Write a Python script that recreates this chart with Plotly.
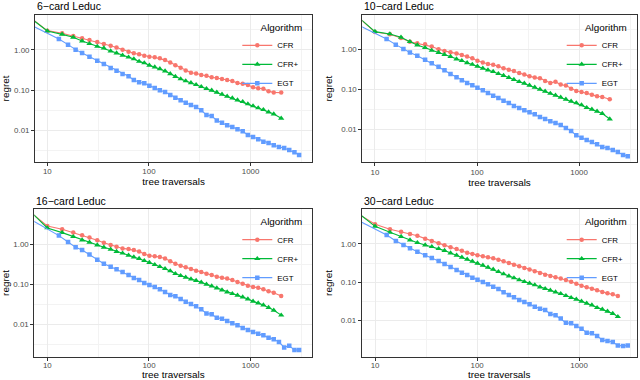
import plotly.graph_objects as go

# ---------------- data ----------------
ALGORITHMS = ["CFR", "CFR+", "EGT"]
PANEL_TITLES = ["6−card Leduc", "10−card Leduc", "16−card Leduc", "30−card Leduc"]

X_TICKS = [10, 100, 1000]
X_TICKTEXT = ["10", "100", "1000"]
Y_TICKS = [1, 0.1, 0.01]
Y_TICKTEXT = ["1.00", "0.10", "0.01"]
X_MINOR = [3.162, 31.62, 316.2, 3162]
Y_MINOR = [3.162, 0.3162, 0.03162, 0.003162]

# tree traversals
X_CFR = [6, 10, 14, 18, 22, 26, 31, 36, 42, 48, 55, 63, 71, 80, 90, 101, 114, 128, 144, 162,
         182, 205, 230, 259, 291, 327, 368, 414, 465, 523, 588, 661, 743, 836, 940, 1057,
         1188, 1336, 1502, 1689, 2000]
X_CFR_30 = [6, 10, 14, 18, 22, 26, 31, 36, 42, 48, 55, 63, 71, 80, 90, 101, 114, 128, 144, 162,
            182, 205, 230, 259, 291, 327, 368, 414, 465, 523, 588, 661, 743, 836, 940, 1057,
            1188, 1336, 1502, 1689, 1900, 2140, 2400]
X_EGT = [6, 13, 16, 19, 22, 26, 31, 36, 42, 48, 55, 63, 71, 80, 90, 101, 114, 128, 144, 162,
         182, 205, 230, 259, 291, 327, 368, 414, 465, 523, 588, 661, 743, 836, 940, 1057,
         1188, 1336, 1502, 1689, 1900, 2140, 2400, 2700, 3000]

# regret, 6-card
CFR_6 = [8.1, 3.03, 2.60, 2.23, 1.95, 1.77, 1.58, 1.41, 1.28, 1.16, 1.02, 0.91, 0.83, 0.78, 0.72,
         0.68, 0.66, 0.62, 0.56, 0.49, 0.42, 0.36, 0.31, 0.27, 0.26, 0.24, 0.23, 0.21, 0.20, 0.19,
         0.18, 0.17, 0.15, 0.145, 0.134, 0.118, 0.111, 0.109, 0.094, 0.088, 0.087]
CFRP_6 = [8.1, 2.97, 2.45, 2.07, 1.67, 1.44, 1.23, 1.12, 0.94, 0.84, 0.74, 0.66, 0.60, 0.52, 0.475,
          0.415, 0.375, 0.34, 0.30, 0.255, 0.218, 0.19, 0.17, 0.152, 0.137, 0.122, 0.109, 0.099,
          0.0883, 0.0787, 0.0702, 0.0638, 0.0569, 0.0518, 0.0453, 0.0404, 0.0360, 0.0327, 0.0286,
          0.0255, 0.0200]
EGT_6 = [5.0, 1.88, 1.36, 1.02, 0.84, 0.68, 0.54, 0.45, 0.356, 0.306, 0.253, 0.221, 0.179, 0.157,
         0.148, 0.129, 0.113, 0.099, 0.090, 0.076, 0.065, 0.0558, 0.0489, 0.0428, 0.0381, 0.0315,
         0.0241, 0.0228, 0.0177, 0.0155, 0.0133, 0.0121, 0.0106, 0.00944, 0.00766, 0.00683,
         0.00597, 0.00522, 0.00484, 0.00423, 0.00385, 0.00363, 0.00324, 0.00283, 0.00243]

# regret, 10-card
CFR_10 = [8.7, 2.71, 2.37, 1.92, 1.55, 1.41, 1.33, 1.17, 1.00, 0.91, 0.84, 0.79, 0.72, 0.66, 0.60,
          0.52, 0.47, 0.43, 0.41, 0.376, 0.335, 0.310, 0.287, 0.256, 0.233, 0.211, 0.196, 0.188,
          0.162, 0.144, 0.155, 0.131, 0.124, 0.104, 0.0908, 0.0858, 0.0810, 0.0736, 0.0668,
          0.0643, 0.0562]
CFRP_10 = [8.6, 2.77, 2.42, 2.0, 1.55, 1.28, 1.10, 0.94, 0.83, 0.74, 0.66, 0.57, 0.52, 0.46, 0.42,
           0.376, 0.335, 0.304, 0.277, 0.246, 0.220, 0.196, 0.175, 0.155, 0.141, 0.126, 0.112,
           0.100, 0.089, 0.079, 0.0708, 0.0631, 0.0562, 0.0501, 0.0455, 0.0406, 0.0348, 0.0316,
           0.0282, 0.0247, 0.0181]
EGT_10 = [4.8, 1.81, 1.31, 1.02, 0.83, 0.69, 0.55, 0.447, 0.369, 0.299, 0.242, 0.200, 0.168,
          0.144, 0.126, 0.110, 0.0944, 0.081, 0.0695, 0.0607, 0.0521, 0.0455, 0.0383, 0.0341,
          0.0299, 0.0266, 0.0237, 0.0203, 0.0181, 0.0158, 0.0144, 0.0128, 0.0108, 0.00908,
          0.00708, 0.00619, 0.00541, 0.00482, 0.00422, 0.00362, 0.00341, 0.00304, 0.00271,
          0.00228, 0.00211]

# regret, 16-card
CFR_16 = [8.3, 2.87, 2.37, 1.96, 1.68, 1.47, 1.26, 1.10, 0.96, 0.87, 0.79, 0.76, 0.72, 0.66, 0.57,
          0.52, 0.50, 0.48, 0.44, 0.376, 0.329, 0.293, 0.266, 0.242, 0.220, 0.203, 0.185, 0.171,
          0.155, 0.147, 0.139, 0.128, 0.114, 0.104, 0.0927, 0.0858, 0.0825, 0.075, 0.0668,
          0.0619, 0.0511]
CFRP_16 = [9.1, 2.56, 1.96, 1.55, 1.28, 1.12, 0.96, 0.84, 0.75, 0.66, 0.60, 0.53, 0.48, 0.44, 0.39,
           0.35, 0.31, 0.277, 0.246, 0.216, 0.185, 0.165, 0.150, 0.136, 0.124, 0.112, 0.100,
           0.0908, 0.081, 0.0722, 0.0643, 0.0585, 0.0531, 0.0482, 0.0430, 0.0376, 0.0341,
           0.0304, 0.0262, 0.0225, 0.0170]
EGT_16 = [5.1, 1.65, 1.14, 0.84, 0.72, 0.56, 0.41, 0.329, 0.277, 0.237, 0.203, 0.171, 0.144,
          0.128, 0.108, 0.0962, 0.0858, 0.075, 0.0643, 0.0541, 0.0501, 0.0430, 0.0369, 0.0322,
          0.0282, 0.0237, 0.0188, 0.0178, 0.0147, 0.0139, 0.0121, 0.0106, 0.00944, 0.00810,
          0.00722, 0.00643, 0.00585, 0.00531, 0.00465, 0.00422, 0.00362, 0.00266, 0.00291,
          0.00228, 0.00228]

# regret, 30-card
CFR_30 = [7.6, 3.3, 2.42, 2.10, 1.83, 1.65, 1.38, 1.20, 1.04, 0.92, 0.82, 0.74, 0.66, 0.59, 0.55,
          0.505, 0.475, 0.447, 0.421, 0.389, 0.351, 0.318, 0.287, 0.260, 0.235, 0.213, 0.192,
          0.174, 0.157, 0.145, 0.134, 0.124, 0.114, 0.103, 0.0914, 0.0809, 0.0732, 0.0676,
          0.0611, 0.0552, 0.0509, 0.0480, 0.0434]
CFRP_30 = [8.5, 2.9, 2.02, 1.56, 1.27, 1.08, 0.94, 0.85, 0.755, 0.67, 0.58, 0.505, 0.447, 0.396,
           0.351, 0.311, 0.276, 0.245, 0.217, 0.188, 0.164, 0.145, 0.129, 0.114, 0.103, 0.0931,
           0.0843, 0.0747, 0.0676, 0.0611, 0.0552, 0.0500, 0.0443, 0.0393, 0.0355, 0.0315,
           0.0279, 0.0252, 0.0215, 0.0194, 0.0172, 0.0150, 0.0125]
EGT_30 = [4.9, 1.72, 1.20, 0.94, 0.77, 0.63, 0.505, 0.430, 0.359, 0.299, 0.250, 0.208, 0.177,
          0.154, 0.131, 0.116, 0.101, 0.0877, 0.0762, 0.0662, 0.0542, 0.0461, 0.0401, 0.0341,
          0.0302, 0.0262, 0.0228, 0.0202, 0.0187, 0.0147, 0.0135, 0.0111, 0.00869, 0.00834,
          0.00711, 0.00605, 0.00475, 0.00456, 0.00389, 0.00305, 0.00288, 0.00271, 0.00221,
          0.00213, 0.00221]

# ---------------- styling / layout ----------------
W, H = 640, 380
FONT = "Liberation Sans, Arial, sans-serif"
COLORS = {"CFR": "#F8766D", "CFR+": "#00BA38", "EGT": "#619CFF"}
SYMBOLS = {"CFR": "circle", "CFR+": "triangle-up", "EGT": "square"}
SIZES = {"CFR": 4.5, "CFR+": 5.5, "EGT": 4.5}

panels = [
    dict(series=[(X_CFR, CFR_6), (X_CFR, CFRP_6), (X_EGT, EGT_6)],
         px=(35.0, 312.3), py=(15.0, 162.0), xr=(0.879, 3.607), yr=(-2.788, 0.871), tls=-1),
    dict(series=[(X_CFR, CFR_10), (X_CFR, CFRP_10), (X_EGT, EGT_10)],
         px=(362.3, 636.7), py=(15.0, 162.3), xr=(0.876, 3.565), yr=(-2.825, 0.858), tls=-1),
    dict(series=[(X_CFR, CFR_16), (X_CFR, CFRP_16), (X_EGT, EGT_16)],
         px=(34.3, 312.3), py=(209.3, 356.7), xr=(0.872, 3.607), yr=(-2.808, 0.875), tls=-2),
    dict(series=[(X_CFR_30, CFR_30), (X_CFR_30, CFRP_30), (X_EGT, EGT_30)],
         px=(361.7, 636.7), py=(209.3, 356.7), xr=(0.869, 3.565), yr=(-2.952, 0.908), tls=-2),
]

fig = go.Figure()
layout = dict(
    width=W, height=H, margin=dict(l=0, r=0, t=0, b=0),
    paper_bgcolor="white", plot_bgcolor="white",
    font=dict(family=FONT, color="black"),
    annotations=[],
)

for i, p in enumerate(panels):
    n = i + 1
    sfx = "" if n == 1 else str(n)
    xa, ya, lg = "x" + sfx, "y" + sfx, "legend" + sfx
    for name, (xs, ys) in zip(ALGORITHMS, p["series"]):
        fig.add_trace(go.Scatter(
            x=xs, y=ys, name=name, mode="lines+markers",
            xaxis=xa, yaxis=ya, legend=lg,
            line=dict(color=COLORS[name], width=1.1),
            marker=dict(symbol=SYMBOLS[name], size=SIZES[name], color=COLORS[name],
                        line=dict(width=0)),
        ))
    x0, x1 = p["px"]
    y0, y1 = p["py"]
    common = dict(
        type="log", showline=True, mirror=True, linecolor="#333333", linewidth=1,
        ticks="outside", ticklen=3, tickwidth=1, tickcolor="#333333",
        showgrid=True, gridcolor="#EBEBEB", gridwidth=1, zeroline=False,
        tickfont=dict(size=7.9, color="#4D4D4D", family=FONT),
        tickmode="array",
    )
    layout["xaxis" + sfx] = dict(
        common, domain=[x0 / W, x1 / W], range=list(p["xr"]), anchor=ya,
        tickvals=X_TICKS, ticktext=X_TICKTEXT, ticklabelstandoff=p["tls"],
        minor=dict(tickmode="array", tickvals=X_MINOR, showgrid=True,
                   gridcolor="#F3F3F3", gridwidth=0.6, ticks=""),
        title=dict(text="tree traversals", font=dict(size=9.9, color="black"), standoff=2),
    )
    layout["yaxis" + sfx] = dict(
        common, domain=[1 - y1 / H, 1 - y0 / H], range=list(p["yr"]), anchor=xa,
        tickvals=Y_TICKS, ticktext=Y_TICKTEXT,
        minor=dict(tickmode="array", tickvals=Y_MINOR, showgrid=True,
                   gridcolor="#F3F3F3", gridwidth=0.6, ticks=""),
        title=dict(text="regret", font=dict(size=9.9, color="black"), standoff=6),
    )
    layout[lg] = dict(
        x=(x1 - 8) / W, xanchor="right", y=1 - (y0 + 3) / H, yanchor="top",
        bgcolor="rgba(255,255,255,0)", borderwidth=0, itemwidth=30,
        font=dict(size=7.9, color="black", family=FONT),
        title=dict(text="Algorithm", side="top right",
                   font=dict(size=9.9, color="black", family=FONT)),
    )
    layout["annotations"].append(dict(
        text=PANEL_TITLES[i], xref="paper", yref="paper",
        x=x0 / W, y=1 - (y0 - 8.5) / H, xanchor="left", yanchor="middle",
        showarrow=False, font=dict(size=10.5, color="black", family=FONT),
    ))

fig.update_layout(**layout)
fig.write_html("out.html", config={"displayModeBar": False},
               post_script="document.body.style.margin='0px';document.body.style.padding='0px';")
